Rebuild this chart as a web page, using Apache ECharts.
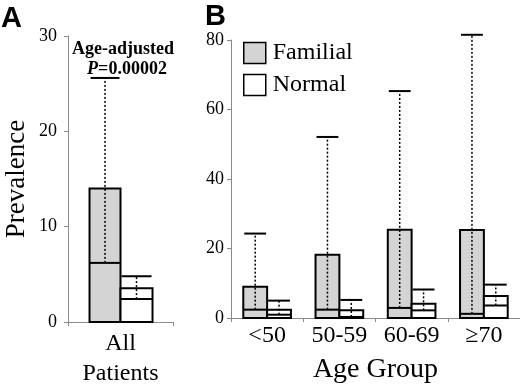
<!DOCTYPE html>
<html style="height: 100%">
<head>
    <meta charset="utf-8" />
    <title>Prevalence box chart</title>
    <script type="text/javascript" src="https://cdn.jsdelivr.net/npm/echarts@6/dist/echarts.min.js"></script>
</head>
<body style="height: 100%; margin: 0; background: #fff">
<div id="chart" style="width: 520px; height: 389px"></div>
<script type="text/javascript">
      // panel A: all patients
      var catsA = ["All\nPatients"];
      var famTopA = [14.0];
      var famMedA = [6.2];
      var famMaxA = [25.6];
      var normTopA = [3.55];
      var normMedA = [2.4];
      var normMaxA = [4.8];

      // panel B: by age group
      var catsB = ["<50", "50-59", "60-69", "≥70"];
      var famTopB = [9.0, 18.2, 25.4, 25.3];
      var famMedB = [2.4, 2.4, 2.9, 1.2];
      var famMaxB = [24.3, 52.1, 65.3, 81.5];
      var normTopB = [2.4, 2.2, 4.1, 6.3];
      var normMedB = [0.95, 0.3, 2.2, 3.6];
      var normMaxB = [5.0, 5.2, 8.2, 9.6];

      var serif = "Liberation Serif";
      var axisGray = "#8a8a8a";
      var famColor = "#d4d4d4";

      function rows(top, med, max) {
        return top.map(function (t, i) {
          return [i, t, med[i], max[i]];
        });
      }

      // box from 0 to top, median line, dotted whisker from median to cap
      function boxRender(side, ratio, fill) {
        return function (params, api) {
          var base = api.coord([api.value(0), 0]);
          var band = api.size([1, 0])[0];
          var w = band * ratio;
          var x0 = side < 0 ? base[0] - w : base[0];
          var top = api.coord([api.value(0), api.value(1)])[1];
          var med = api.coord([api.value(0), api.value(2)])[1];
          var max = api.coord([api.value(0), api.value(3)])[1];
          var mid = x0 + w / 2;
          return {
            type: "group",
            children: [
              { type: "rect", shape: { x: x0, y: top, width: w, height: base[1] - top },
                style: { fill: fill, stroke: "#000", lineWidth: 2 } },
              { type: "line", shape: { x1: x0, y1: med, x2: x0 + w, y2: med },
                style: { stroke: "#000", lineWidth: 2 } },
              { type: "line", shape: { x1: mid, y1: med, x2: mid, y2: max },
                style: { stroke: "#000", lineWidth: 1.5, lineDash: [2, 2] } },
              { type: "line", shape: { x1: x0 + 1, y1: max, x2: x0 + w - 1, y2: max },
                style: { stroke: "#000", lineWidth: 2 } }
            ]
          };
        };
      }

      function yAx(idx, max, step, extra) {
        var ax = {
          type: "value", gridIndex: idx, min: 0, max: max, interval: step,
          splitLine: { show: false },
          axisLine: { show: true, lineStyle: { color: axisGray, width: 1 } },
          axisTick: { show: true, length: 4, lineStyle: { color: axisGray } },
          axisLabel: { color: "#000", fontFamily: serif, fontSize: 18, margin: idx === 0 ? 11 : 7 }
        };
        return Object.assign(ax, extra || {});
      }

      function xAx(idx, cats, margin, extra) {
        var ax = {
          type: "category", gridIndex: idx, data: cats,
          axisLine: { show: true, lineStyle: { color: axisGray, width: 1 } },
          axisTick: { show: true, length: 4, lineStyle: { color: axisGray } },
          axisLabel: { color: "#000", fontFamily: serif, fontSize: 24, lineHeight: 30,
                       margin: margin, interval: 0, hideOverlap: false }
        };
        return Object.assign(ax, extra || {});
      }

      var myChart = echarts.init(document.getElementById("chart"), null, { renderer: "canvas" });
      var option = {
        animation: false,
        backgroundColor: "#fff",
        grid: [
          { left: 68, top: 36, width: 105, bottom: 67 },
          { left: 231, top: 40, width: 291, bottom: 68 }
        ],
        xAxis: [
          xAx(0, catsA, 7),
          xAx(1, catsB, 3, {
            name: "Age Group", nameLocation: "middle", nameGap: 38,
            nameTextStyle: { color: "#000", fontFamily: serif, fontSize: 28 }
          })
        ],
        yAxis: [
          yAx(0, 30, 10, {
            name: "Prevalence", nameLocation: "middle", nameGap: 38, nameRotate: 90,
            nameTextStyle: { color: "#000", fontFamily: serif, fontSize: 27 }
          }),
          yAx(1, 80, 20)
        ],
        legend: {
          left: 243, top: 41, orient: "vertical", padding: 0,
          itemWidth: 22, itemHeight: 21, itemGap: 8,
          textStyle: { color: "#000", fontFamily: serif, fontSize: 24, padding: [0, 0, 0, 2] },
          data: [
            { name: "Familial", icon: "rect", itemStyle: { color: famColor, borderColor: "#000", borderWidth: 1.5 } },
            { name: "Normal", icon: "rect", itemStyle: { color: "#fff", borderColor: "#000", borderWidth: 1.5 } }
          ]
        },
        graphic: [
          { type: "text", left: 1, top: 4,
            style: { text: "A", fill: "#000", font: "bold 29px 'Liberation Sans'" } },
          { type: "text", left: 205, top: 2,
            style: { text: "B", fill: "#000", font: "bold 29px 'Liberation Sans'" } },
          { type: "text", x: 123, y: 40,
            style: { text: "Age-adjusted", fill: "#000", align: "center", verticalAlign: "top",
                     font: "bold 18px 'Liberation Serif'" } },
          { type: "text", x: 127, y: 60,
            style: { text: "{i|P}{n|=0.00002}", fill: "#000", align: "center", verticalAlign: "top",
                     rich: {
                       i: { fontFamily: serif, fontWeight: "bold", fontStyle: "italic", fontSize: 18 },
                       n: { fontFamily: serif, fontWeight: "bold", fontSize: 18 }
                     } } }
        ],
        series: [
          { name: "Familial", type: "custom", xAxisIndex: 0, yAxisIndex: 0,
            itemStyle: { color: famColor },
            encode: { x: 0, y: [1, 2, 3] },
            renderItem: boxRender(-1, 0.295, famColor), data: rows(famTopA, famMedA, famMaxA) },
          { name: "Normal", type: "custom", xAxisIndex: 0, yAxisIndex: 0,
            itemStyle: { color: "#fff" },
            encode: { x: 0, y: [1, 2, 3] },
            renderItem: boxRender(1, 0.305, "#fff"), data: rows(normTopA, normMedA, normMaxA) },
          { name: "Familial", type: "custom", xAxisIndex: 1, yAxisIndex: 1,
            itemStyle: { color: famColor },
            encode: { x: 0, y: [1, 2, 3] },
            renderItem: boxRender(-1, 0.33, famColor), data: rows(famTopB, famMedB, famMaxB) },
          { name: "Normal", type: "custom", xAxisIndex: 1, yAxisIndex: 1,
            itemStyle: { color: "#fff" },
            encode: { x: 0, y: [1, 2, 3] },
            renderItem: boxRender(1, 0.33, "#fff"), data: rows(normTopB, normMedB, normMaxB) }
        ]
      };
      myChart.setOption(option);
      window.addEventListener("resize", function () {
        myChart.resize();
      });
    </script>
</body>
</html>
